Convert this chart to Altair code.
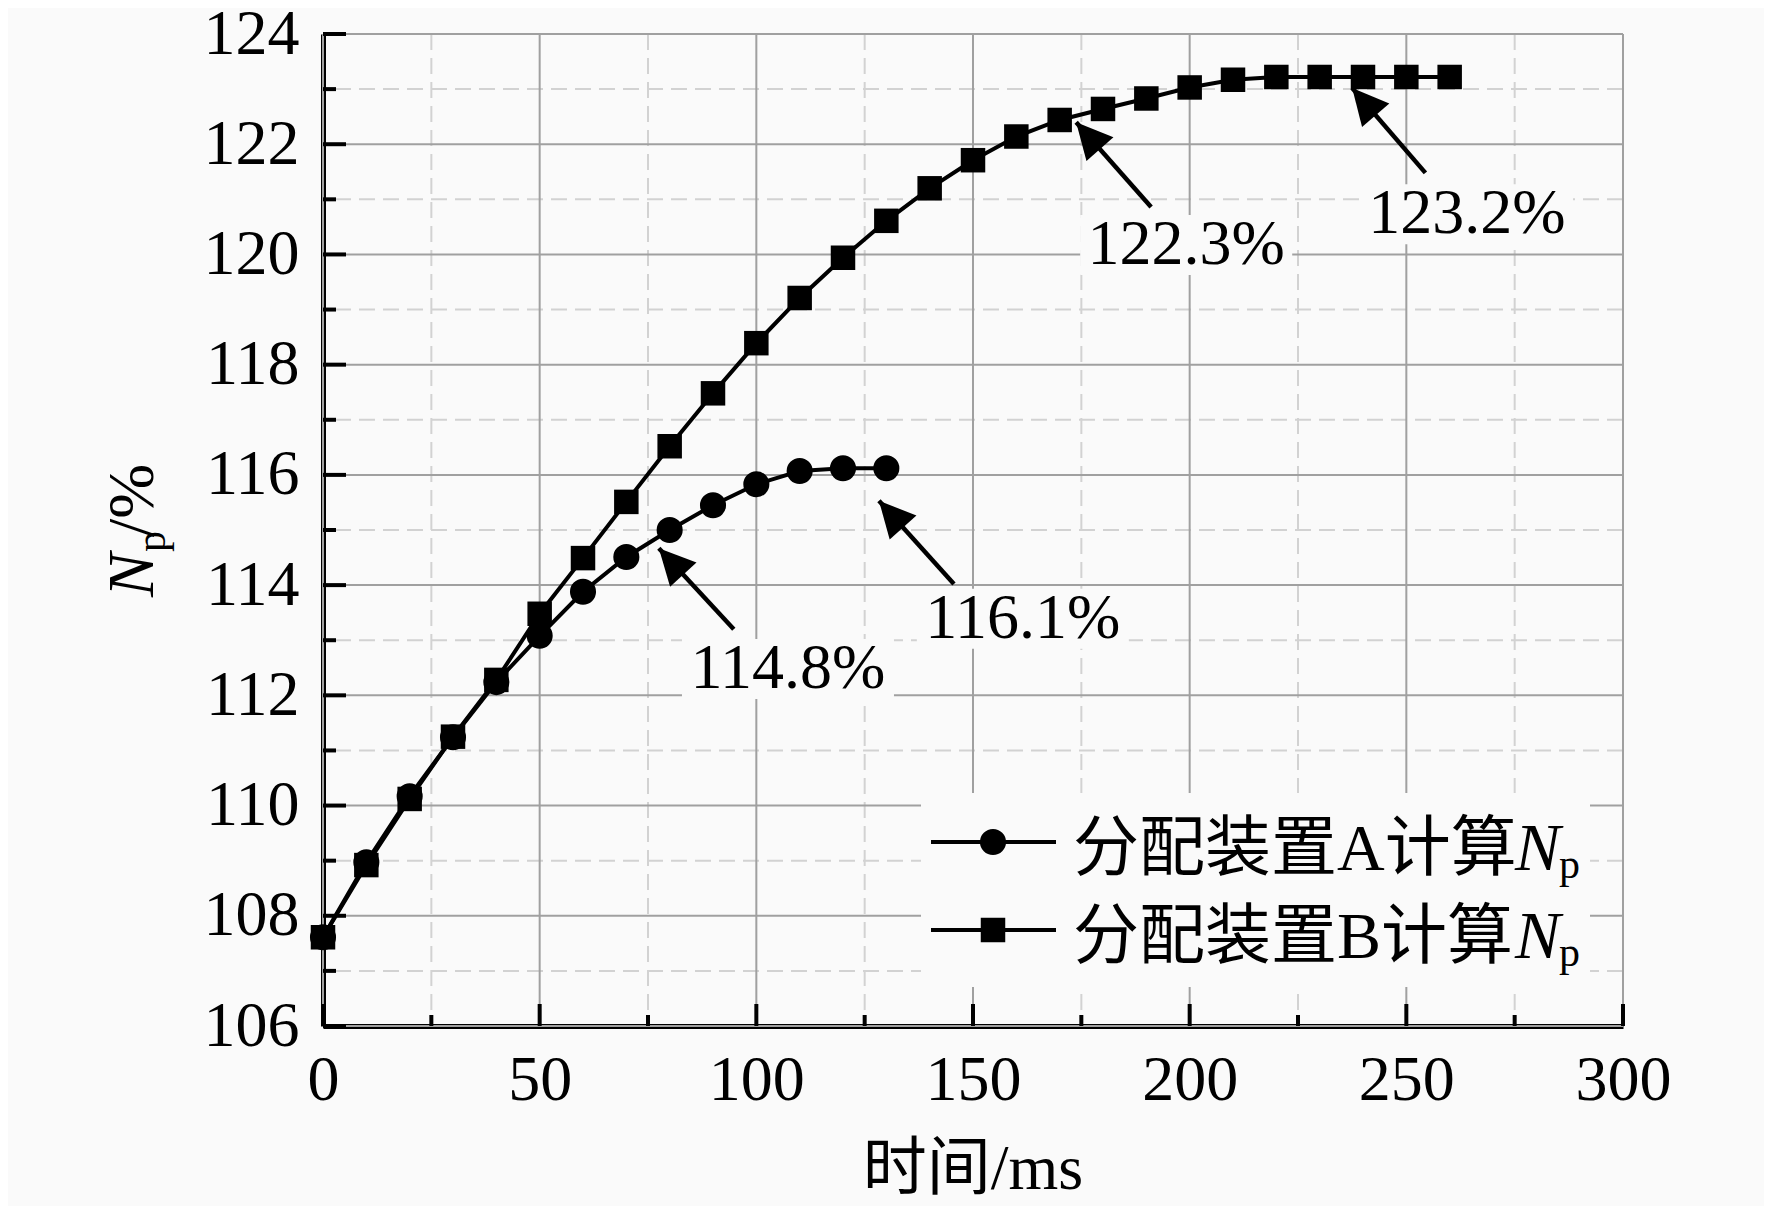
import math
import altair as alt
import pandas as pd

# ---------------- data ----------------
time_a = [0, 10, 20, 30, 40, 50, 60, 70, 80, 90, 100, 110, 120, 130]
np_a = [107.61, 108.97, 110.17, 111.24, 112.24, 113.08, 113.88, 114.51,
        115.00, 115.45, 115.83, 116.07, 116.12, 116.12]

time_b = [0, 10, 20, 30, 40, 50, 60, 70, 80, 90, 100, 110, 120, 130,
          140, 150, 160, 170, 180, 190, 200, 210, 220, 230, 240, 250, 260]
np_b = [107.61, 108.92, 110.12, 111.25, 112.28, 113.48, 114.49, 115.51,
        116.52, 117.48, 118.39, 119.21, 119.94, 120.61, 121.20, 121.71,
        122.14, 122.44, 122.64, 122.83, 123.03, 123.17, 123.22, 123.22,
        123.22, 123.22, 123.22]

ann_text = ["114.8%", "116.1%", "122.3%", "123.2%"]
ann_tip_x = [77.5, 128.3, 173.8, 237.5]
ann_tip_y = [114.67, 115.53, 122.40, 123.02]
ann_tail_x = [94.8, 145.6, 191.1, 254.4]
ann_tail_y = [113.20, 114.02, 120.86, 121.48]
ann_lab_x = [107.3, 161.5, 199.2, 264.0]
ann_lab_y = [112.48, 113.39, 120.17, 120.73]

x_major = [0, 50, 100, 150, 200, 250, 300]
x_minor = [25, 75, 125, 175, 225, 275]
y_major = [106, 108, 110, 112, 114, 116, 118, 120, 122, 124]
y_minor = [107, 109, 111, 113, 115, 117, 119, 121, 123]

legend_labels = ["分配装置A计算", "分配装置B计算"]
x_title = "时间/ms"

# ---------------- layout ----------------
W, H = 1300, 992
X0, X1 = 0, 300
Y0, Y1 = 106, 124
px_per_x = W / (X1 - X0)
px_per_y = H / (Y1 - Y0)

SERIF = "Liberation Serif, Noto Sans CJK SC"
BG = "#fafafa"

xs = alt.Scale(domain=[X0, X1], nice=False, zero=False)
ys = alt.Scale(domain=[Y0, Y1], nice=False, zero=False)

X_AX = alt.Axis(values=x_major, grid=False, ticks=False, title=None,
                domainColor="black", domainWidth=5, labelFlush=False,
                labelFont=SERIF, labelFontSize=64, labelColor="black",
                labelPadding=22)
Y_AX = alt.Axis(values=y_major, grid=False, ticks=False, title=None,
                domainColor="black", domainWidth=5, labelFlush=False,
                labelFont=SERIF, labelFontSize=64, labelColor="black",
                labelPadding=24)


def X(f):
    return alt.X(f, scale=xs, axis=X_AX)


def Y(f):
    return alt.Y(f, scale=ys, axis=Y_AX)


df_a = pd.DataFrame({"t": time_a, "v": np_a})
df_b = pd.DataFrame({"t": time_b, "v": np_b})

angles = []
for tx, ty, sx, sy in zip(ann_tip_x, ann_tip_y, ann_tail_x, ann_tail_y):
    dx = (tx - sx) * px_per_x
    dy = -(ty - sy) * px_per_y
    a = math.degrees(math.atan2(dx, -dy))
    angles.append(a % 360)

df_ann = pd.DataFrame({
    "text": ann_text, "tx": ann_tip_x, "ty": ann_tip_y,
    "sx": ann_tail_x, "sy": ann_tail_y,
    "lx": ann_lab_x, "ly": ann_lab_y, "ang": angles,
})

one = pd.DataFrame({"k": [0]})

# ---------------- grid ----------------
grid_major_h = alt.Chart(pd.DataFrame({"y": y_major})).mark_rule(
    color="#a0a0a0", strokeWidth=2).encode(y=Y("y:Q"))
grid_minor_h = alt.Chart(pd.DataFrame({"y": y_minor})).mark_rule(
    color="#d2d2d2", strokeWidth=2, strokeDash=[16, 8]).encode(y=Y("y:Q"))
grid_major_v = alt.Chart(pd.DataFrame({"x": x_major})).mark_rule(
    color="#a0a0a0", strokeWidth=2).encode(x=X("x:Q"))
grid_minor_v = alt.Chart(pd.DataFrame({"x": x_minor})).mark_rule(
    color="#d2d2d2", strokeWidth=2, strokeDash=[16, 8]).encode(x=X("x:Q"))

# ---------------- inward ticks ----------------
tick_y_major = alt.Chart(pd.DataFrame({"y": y_major})).mark_rule(
    color="black", strokeWidth=4
).encode(y=Y("y:Q"), x=alt.value(0), x2=alt.value(23))
tick_y_minor = alt.Chart(pd.DataFrame({"y": y_minor})).mark_rule(
    color="black", strokeWidth=4
).encode(y=Y("y:Q"), x=alt.value(0), x2=alt.value(13))
tick_x_major = alt.Chart(pd.DataFrame({"x": x_major})).mark_rule(
    color="black", strokeWidth=4
).encode(x=X("x:Q"), y=alt.value(H), y2=alt.value(H - 22))
tick_x_minor = alt.Chart(pd.DataFrame({"x": x_minor})).mark_rule(
    color="black", strokeWidth=4
).encode(x=X("x:Q"), y=alt.value(H), y2=alt.value(H - 11))

# ---------------- series ----------------
line_b = alt.Chart(df_b).mark_line(color="black", strokeWidth=4).encode(
    x=X("t:Q"), y=Y("v:Q"))
pts_b = alt.Chart(df_b).mark_point(
    shape="square", filled=True, color="black", size=600, opacity=1
).encode(x=X("t:Q"), y=Y("v:Q"))
line_a = alt.Chart(df_a).mark_line(color="black", strokeWidth=4).encode(
    x=X("t:Q"), y=Y("v:Q"))
pts_a = alt.Chart(df_a).mark_point(
    shape="circle", filled=True, color="black", size=680, opacity=1
).encode(x=X("t:Q"), y=Y("v:Q"))

# ---------------- annotations ----------------
ann_bg = alt.Chart(df_ann).mark_rect(
    color=BG, xOffset=-106, x2Offset=106, yOffset=-30, y2Offset=30
).encode(x=X("lx:Q"), x2="lx:Q", y=Y("ly:Q"), y2="ly:Q")
ann_line = alt.Chart(df_ann).mark_rule(color="black", strokeWidth=4.5).encode(
    x=X("sx:Q"), y=Y("sy:Q"), x2="tx:Q", y2="ty:Q")
ann_head = alt.Chart(df_ann).mark_point(
    shape="M0,0L-0.5,1L0.5,1Z", filled=True, color="black", size=5184, opacity=1
).encode(x=X("tx:Q"), y=Y("ty:Q"), angle=alt.Angle("ang:Q", scale=None))
ann_txt = alt.Chart(df_ann).mark_text(
    font=SERIF, fontSize=64, color="black", align="center", baseline="middle"
).encode(x=X("lx:Q"), y=Y("ly:Q"), text="text:N")

# ---------------- custom legend (pixel positions) ----------------
leg_box = alt.Chart(one).mark_rect(color=BG).encode(
    x=alt.value(598), x2=alt.value(1267), y=alt.value(759), y2=alt.value(953))
leg_rows = []
row_y = [808, 896]
shapes = ["circle", "square"]
sizes = [680, 600]
for i in range(2):
    ry = row_y[i]
    leg_rows.append(alt.Chart(one).mark_rule(color="black", strokeWidth=4).encode(
        x=alt.value(608), x2=alt.value(733), y=alt.value(ry)))
    leg_rows.append(alt.Chart(one).mark_point(
        shape=shapes[i], filled=True, color="black", size=sizes[i], opacity=1
    ).encode(x=alt.value(670), y=alt.value(ry)))
    leg_rows.append(alt.Chart(one).mark_text(
        font=SERIF, fontSize=66, color="black", align="left",
        baseline="alphabetic", text=legend_labels[i]
    ).encode(x=alt.value(750), y=alt.value(ry + 28)))
    leg_rows.append(alt.Chart(one).mark_text(
        font=SERIF, fontSize=68, fontStyle="italic", color="black",
        align="left", baseline="alphabetic", text="N"
    ).encode(x=alt.value(1192), y=alt.value(ry + 28)))
    leg_rows.append(alt.Chart(one).mark_text(
        font=SERIF, fontSize=42, color="black", align="left",
        baseline="alphabetic", text="p"
    ).encode(x=alt.value(1236), y=alt.value(ry + 36)))

# ---------------- axis titles ----------------
xt = alt.Chart(one).mark_text(
    font=SERIF, fontSize=64, color="black", align="center", baseline="middle",
    text=x_title
).encode(x=alt.value(W / 2), y=alt.value(1136))
yt_n = alt.Chart(one).mark_text(
    font=SERIF, fontSize=66, fontStyle="italic", color="black", align="left",
    baseline="alphabetic", angle=270, text="N"
).encode(x=alt.value(-170), y=alt.value(563))
yt_p = alt.Chart(one).mark_text(
    font=SERIF, fontSize=42, color="black", align="left",
    baseline="alphabetic", angle=270, text="p"
).encode(x=alt.value(-158), y=alt.value(518))
yt_rest = alt.Chart(one).mark_text(
    font=SERIF, fontSize=66, color="black", align="left",
    baseline="alphabetic", angle=270, text="/%"
).encode(x=alt.value(-170), y=alt.value(503))

chart = alt.layer(
    grid_minor_h, grid_minor_v, grid_major_h, grid_major_v,
    ann_bg, leg_box,
    tick_y_major, tick_y_minor, tick_x_major, tick_x_minor,
    line_b, pts_b, line_a, pts_a,
    ann_line, ann_head, ann_txt,
    *leg_rows,
    xt, yt_n, yt_p, yt_rest,
).properties(
    width=W, height=H,
    autosize=alt.AutoSizeParams(type="none"),
    padding={"left": 315, "top": 26, "right": 141, "bottom": 180},
    background=BG,
).configure_view(strokeWidth=0)

chart.save("out.html", embed_options={"renderer": "svg", "actions": False})
